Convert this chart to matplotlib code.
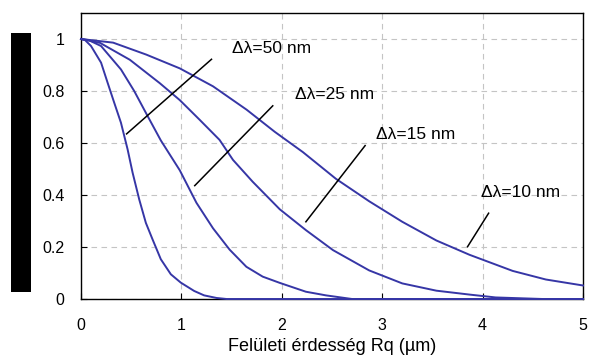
import matplotlib
matplotlib.use("Agg")
import matplotlib.pyplot as plt
from matplotlib.patches import Rectangle

plt.rcParams["font.family"] = ["Liberation Sans", "DejaVu Sans"]

# Rq (um) vs relative reflectance
rq_50 = [0, 0.04, 0.1, 0.2, 0.265, 0.331, 0.398, 0.464, 0.514, 0.58, 0.646, 0.712,
         0.795, 0.895, 0.994, 1.127, 1.226, 1.35, 1.45, 5.0]
r_50 = [1.0, 0.996, 0.973, 0.909, 0.832, 0.755, 0.678, 0.576, 0.486, 0.383, 0.293, 0.23,
        0.153, 0.095, 0.063, 0.031, 0.014, 0.004, 0.0, 0.0]

rq_25 = [0, 0.08, 0.2, 0.398, 0.53, 0.663, 0.795, 0.984, 1.15, 1.315, 1.48, 1.647,
         1.81, 1.98, 2.24, 2.44, 2.7, 5.0]
r_25 = [1.0, 0.995, 0.973, 0.883, 0.80, 0.704, 0.61, 0.495, 0.37, 0.272, 0.19, 0.124,
        0.086, 0.062, 0.028, 0.014, 0.0, 0.0]

rq_15 = [0, 0.19, 0.487, 0.785, 0.984, 1.18, 1.38, 1.514, 1.71, 1.98, 2.24, 2.51,
         2.87, 3.2, 3.54, 3.87, 4.13, 4.6, 5.0]
r_15 = [1.0, 0.985, 0.92, 0.83, 0.765, 0.69, 0.612, 0.535, 0.451, 0.345, 0.265, 0.188,
        0.11, 0.06, 0.032, 0.017, 0.006, 0.0, 0.0]

rq_10 = [0, 0.32, 0.65, 0.984, 1.315, 1.65, 1.93, 2.21, 2.54, 2.87, 3.2, 3.54, 3.87,
         4.30, 4.63, 5.0]
r_10 = [1.0, 0.986, 0.94, 0.887, 0.818, 0.728, 0.643, 0.565, 0.462, 0.376, 0.297, 0.225,
        0.17, 0.108, 0.075, 0.052]

# annotation: label, label pos, leader line (x0, y0, x1, y1)
labels = ["\u0394\u03bb=50 nm", "\u0394\u03bb=25 nm", "\u0394\u03bb=15 nm", "\u0394\u03bb=10 nm"]
label_xy = [(1.50, 0.965), (2.13, 0.785), (2.94, 0.631), (3.98, 0.409)]
leaders = [(0.454, 0.635, 1.30, 0.922), (1.133, 0.436, 1.91, 0.743),
           (2.24, 0.297, 2.83, 0.59), (3.85, 0.201, 4.06, 0.33)]

CURVE = "#3636a6"

fig = plt.figure(figsize=(5.89, 3.56), dpi=100)
ax = fig.add_axes([0.1375, 0.1601, 0.8523, 0.8034])

ax.grid(True, color="#c4c4c4", ls=(0, (5, 4)), lw=0.8)
ax.set_axisbelow(True)

for x, y in [(rq_50, r_50), (rq_25, r_25), (rq_15, r_15), (rq_10, r_10)]:
    ax.plot(x, y, color=CURVE, lw=1.4, clip_on=False, zorder=3)

for (x0, y0, x1, y1) in leaders:
    ax.plot([x0, x1], [y0, y1], color="black", lw=1.1, zorder=4)
for txt, (tx, ty) in zip(labels, label_xy):
    ax.text(tx, ty, txt, fontsize=12.5, ha="left", va="center")

ax.set_xlim(0, 5)
ax.set_ylim(0, 1.1)
ax.set_xticks([0, 1, 2, 3, 4, 5])
ax.set_xticklabels(["0", "1", "2", "3", "4", "5"])
ax.set_yticks([0, 0.2, 0.4, 0.6, 0.8, 1.0])
ax.set_yticklabels(["0", "0.2", "0.4", "0.6", "0.8", "1"])
ax.tick_params(direction="in", length=4, width=0.8, labelsize=11.5)
ax.tick_params(axis="y", pad=12)
ax.tick_params(axis="x", pad=14)
for s in ax.spines.values():
    s.set_color("black")
    s.set_linewidth(1.0)
ax.set_xlabel("Felületi érdesség Rq (µm)", fontsize=13)
ax.xaxis.set_label_coords(0.5, -0.138)

# redaction block over the y-axis title
fig.patches.append(Rectangle((0.0187, 0.1798), 0.034, 0.7275, transform=fig.transFigure,
                             facecolor="black", edgecolor="none"))

fig.savefig("out.png", dpi=100)
